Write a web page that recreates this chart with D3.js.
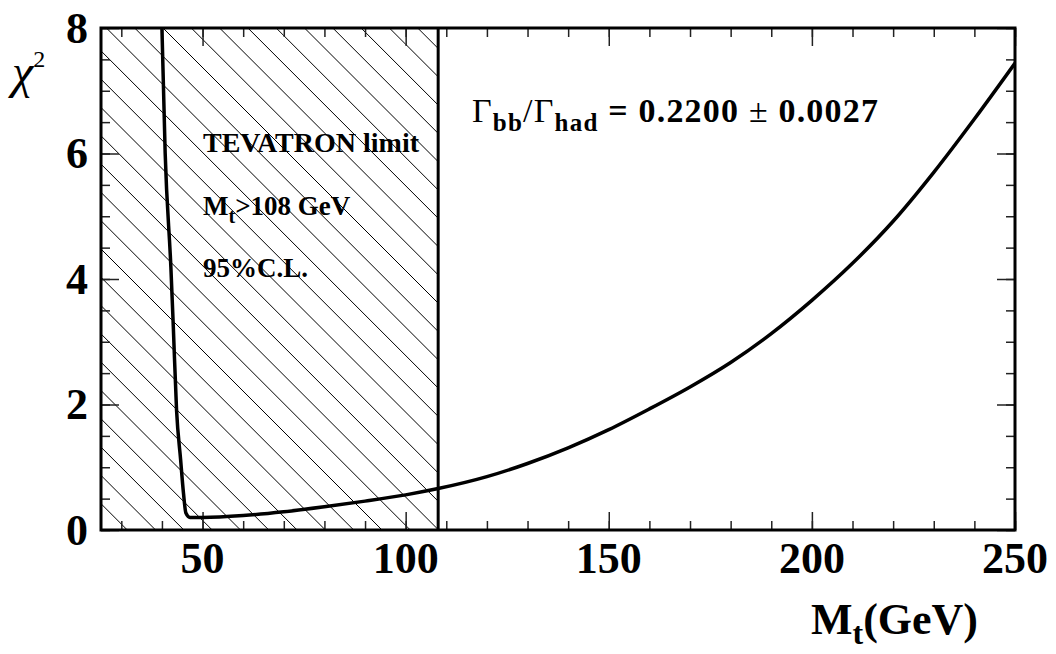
<!DOCTYPE html>
<html>
<head>
<meta charset="utf-8">
<script src="https://cdn.jsdelivr.net/npm/d3@7"></script>
<style>
  body { margin: 0; background: #fff; }
  text { font-family: "Liberation Serif", "Times New Roman", serif; }
</style>
</head>
<body>
<script>
// chi^2 scan vs top mass
const massGeV = [40.0, 40.8, 42.2, 42.8, 43.6, 44.6, 45.3, 45.9, 46.9, 50, 60, 70, 80, 90, 100, 108,
                 120, 130, 140, 150, 160, 170, 180, 190, 200, 210, 220, 230, 240, 250];
const chi2 = [8.0, 6.0, 4.19, 3.24, 1.91, 1.12, 0.59, 0.27, 0.20, 0.20, 0.23, 0.29, 0.37, 0.46, 0.56, 0.66,
              0.85, 1.06, 1.31, 1.60, 1.93, 2.28, 2.67, 3.13, 3.66, 4.25, 4.92, 5.70, 6.55, 7.44];

const xMajorTicks = [50, 100, 150, 200, 250];
const xMinorTicks = d3.range(30, 251, 10);
const yMajorTicks = [0, 2, 4, 6, 8];
const yMinorTicks = d3.range(0, 8.01, 0.5);
const xDomain = [25, 250];
const yDomain = [0, 8];
const tevatronLimit = 108;

init();

function init() {
  let width = 1056, height = 654,
      margin = {l: 101, r: 41, t: 28, b: 124};

  let svg = d3.select("body")
              .append("svg")
              .attr("width", width)
              .attr("height", height);

  let x = d3.scaleLinear().domain(xDomain).range([margin.l, width - margin.r]);
  let y = d3.scaleLinear().domain(yDomain).range([height - margin.b, margin.t]);

  // hatched excluded region (M_t < 108)
  svg.append("clipPath").attr("id", "excl")
     .append("rect")
     .attr("x", x(xDomain[0])).attr("y", y(yDomain[1]))
     .attr("width", x(tevatronLimit) - x(xDomain[0]))
     .attr("height", y(yDomain[0]) - y(yDomain[1]));

  let step = 28.3, c0 = -106.7;
  let cMin = y(yDomain[1]) - x(tevatronLimit), cMax = y(yDomain[0]) - x(xDomain[0]);
  let offsets = [];
  for (let c = c0 - Math.ceil((c0 - cMin) / step) * step; c <= cMax; c += step) offsets.push(c);

  svg.append("g").attr("clip-path", "url(#excl)")
     .selectAll("line").data(offsets).enter()
     .append("line")
     .attr("x1", x(xDomain[0]) - 10).attr("y1", d => x(xDomain[0]) - 10 + d)
     .attr("x2", x(tevatronLimit) + 10).attr("y2", d => x(tevatronLimit) + 10 + d)
     .attr("stroke", "#000").attr("stroke-width", 1);

  // ticks on all four sides, pointing inward
  let tickStyle = g => {
    g.select(".domain").remove();
    g.selectAll(".tick line").attr("stroke", "#222").attr("stroke-width", 1.5);
    g.selectAll("text").remove();
  };
  let x0 = y(0), x1 = y(8), yl = x(25), yr = x(250);
  svg.append("g").attr("transform", `translate(0,${x0})`).call(d3.axisBottom(x).tickValues(xMinorTicks).tickSize(-9)).call(tickStyle);
  svg.append("g").attr("transform", `translate(0,${x0})`).call(d3.axisBottom(x).tickValues(xMajorTicks).tickSize(-18)).call(tickStyle);
  svg.append("g").attr("transform", `translate(0,${x1})`).call(d3.axisTop(x).tickValues(xMinorTicks).tickSize(-9)).call(tickStyle);
  svg.append("g").attr("transform", `translate(0,${x1})`).call(d3.axisTop(x).tickValues(xMajorTicks).tickSize(-18)).call(tickStyle);
  svg.append("g").attr("transform", `translate(${yl},0)`).call(d3.axisLeft(y).tickValues(yMinorTicks).tickSize(-9)).call(tickStyle);
  svg.append("g").attr("transform", `translate(${yl},0)`).call(d3.axisLeft(y).tickValues(yMajorTicks).tickSize(-18)).call(tickStyle);
  svg.append("g").attr("transform", `translate(${yr},0)`).call(d3.axisRight(y).tickValues(yMinorTicks).tickSize(-9)).call(tickStyle);
  svg.append("g").attr("transform", `translate(${yr},0)`).call(d3.axisRight(y).tickValues(yMajorTicks).tickSize(-18)).call(tickStyle);

  // limit line
  svg.append("line")
     .attr("x1", x(tevatronLimit)).attr("x2", x(tevatronLimit))
     .attr("y1", y(0)).attr("y2", y(8))
     .attr("stroke", "#000").attr("stroke-width", 3);

  // curve
  svg.append("clipPath").attr("id", "frame")
     .append("rect").attr("x", yl).attr("y", x1).attr("width", yr - yl).attr("height", x0 - x1);

  let line = d3.line()
               .x((d, i) => x(massGeV[i]))
               .y(d => y(d))
               .curve(d3.curveMonotoneX);

  svg.append("path")
     .datum(chi2)
     .attr("clip-path", "url(#frame)")
     .attr("d", line)
     .attr("fill", "none")
     .attr("stroke", "#000")
     .attr("stroke-width", 3.5)
     .attr("stroke-linejoin", "round");

  // frame
  svg.append("rect")
     .attr("x", yl).attr("y", x1)
     .attr("width", yr - yl).attr("height", x0 - x1)
     .attr("fill", "none").attr("stroke", "#000").attr("stroke-width", 3);

  // tick labels
  svg.selectAll(".xlab").data(xMajorTicks).enter()
     .append("text").attr("class", "xlab")
     .attr("x", d => x(d)).attr("y", x0 + 43)
     .attr("text-anchor", "middle")
     .style("font-size", "44px").style("font-weight", "bold")
     .text(d => d);

  svg.selectAll(".ylab").data(yMajorTicks).enter()
     .append("text").attr("class", "ylab")
     .attr("x", yl - 13).attr("y", d => y(d)).attr("dy", "0.34em")
     .attr("text-anchor", "end")
     .style("font-size", "44px").style("font-weight", "bold")
     .text(d => d);

  // axis titles
  let xt = svg.append("text").attr("x", 811).attr("y", 634)
              .style("font-size", "44px").style("font-weight", "bold");
  xt.append("tspan").text("M");
  xt.append("tspan").attr("dy", 10).style("font-size", "32px").text("t");
  xt.append("tspan").attr("dy", -10).text("(GeV)");

  let yt = svg.append("text").attr("x", 12).attr("y", 88).style("font-size", "48px");
  yt.append("tspan").style("font-style", "italic").text("χ");
  yt.append("tspan").attr("dy", -21).style("font-size", "24px").text("2");

  // annotations
  let g = svg.append("text").attr("x", 472).attr("y", 122)
             .style("font-size", "34px").style("letter-spacing", "1.2px");
  g.append("tspan").text("Γ");
  g.append("tspan").attr("dy", 9).style("font-size", "25px").style("font-weight", "bold").text("bb");
  g.append("tspan").attr("dy", -9).text("/Γ");
  g.append("tspan").attr("dy", 9).style("font-size", "25px").style("font-weight", "bold").text("had");
  g.append("tspan").attr("dy", -9).style("font-weight", "bold").text(" = 0.2200 ");
  g.append("tspan").text("±");
  g.append("tspan").style("font-weight", "bold").text(" 0.0027");

  let labelStyle = s => s.attr("x", 203).style("font-size", "27px").style("font-weight", "bold");
  svg.append("text").call(labelStyle).attr("y", 152).style("font-size", "28px").text("TEVATRON limit");
  let m = svg.append("text").call(labelStyle).attr("y", 215);
  m.append("tspan").text("M");
  m.append("tspan").attr("dy", 8).style("font-size", "20px").text("t");
  m.append("tspan").attr("dy", -8).text(">" + tevatronLimit + " GeV");
  svg.append("text").call(labelStyle).attr("y", 277).text("95%C.L.");
}
</script>
</body>
</html>
